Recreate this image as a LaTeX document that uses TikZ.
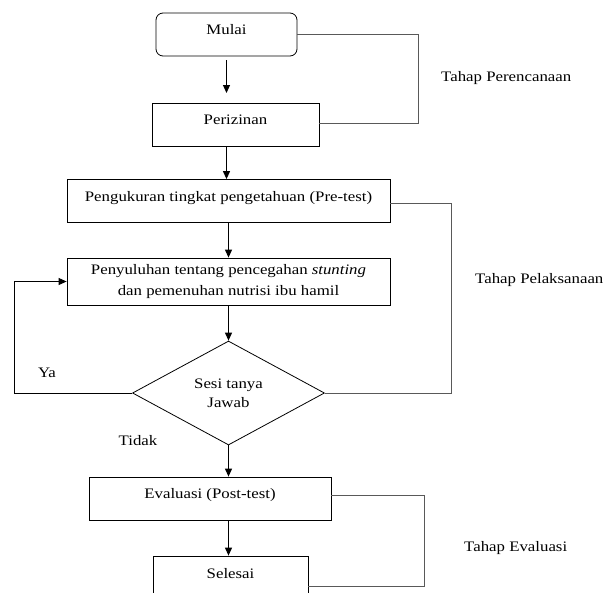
\documentclass[tikz,border=0pt]{standalone}
\usepackage{fontspec}
\setmainfont[FakeStretch=1.16]{Liberation Serif}
\usetikzlibrary{shapes.geometric,arrows.meta}

\tikzset{
  flow/.style={line width=1.1pt, -{Triangle[length=8pt,width=7pt]}},
  backflow/.style={line width=0.8pt, -{Triangle[length=8pt,width=7pt]}},
  phase/.style={draw=black!65, line width=0.7pt},
  stepbox/.style={draw, line width=0.8pt, minimum height=43pt, text depth=10pt,
    inner sep=0pt, font=\fontsize{14.5}{17}\selectfont},
  twoline/.style={draw, line width=0.8pt, inner sep=0pt, align=center,
    font=\fontsize{14.5}{21}\selectfont},
  startbox/.style={stepbox, rounded corners=7pt},
  decision/.style={draw, diamond, line width=0.8pt, inner sep=0pt, align=center,
    font=\fontsize{14.5}{19}\selectfont},
  tag/.style={font=\fontsize{14.5}{17}\selectfont, inner sep=0pt},
}

\begin{document}
\begin{tikzpicture}[x=1pt, y=-1pt]
  \useasboundingbox (0,0) rectangle (610,592);

  % process steps
  \node[startbox, minimum width=141pt] (mulai) at (226.5,34.5) {Mulai};
  \node[stepbox, minimum width=167pt] (izin) at (235.5,124.5) {Perizinan};
  \node[stepbox, minimum width=323pt] (pre) at (228.5,201) {Pengukuran tingkat pengetahuan (Pre-test)};
  \node[twoline, minimum width=323pt, minimum height=47pt] (suluh) at (228.5,281.5)
    {Penyuluhan tentang pencegahan \textit{stunting}\\dan pemenuhan nutrisi ibu hamil};
  \node[decision, minimum width=192pt, minimum height=104pt] (tanya) at (228.5,393)
    {Sesi tanya\\Jawab};
  \node[stepbox, minimum width=242pt] (eval) at (210,498.5) {Evaluasi (Post-test)};
  \node[stepbox, minimum width=155pt, minimum height=44pt] (selesai) at (230.5,578) {Selesai};

  % main flow
  \coordinate (m1) at (226.5,60);
  \coordinate (m2) at (226.5,93);
  \draw[flow] (m1) -- (m2);
  \draw[flow] (mulai.south |- izin.south) -- (mulai.south |- pre.north);
  \draw[flow] (pre.south) -- (suluh.north);
  \draw[flow] (suluh.south) -- (tanya.north);
  \draw[flow] (tanya.south) -- (tanya.south |- eval.north);
  \draw[flow] (tanya.south |- eval.south) -- (tanya.south |- selesai.north);

  % "Ya" loop back to the counselling step
  \coordinate (loop) at (14,393);
  \draw[backflow] (tanya.west) -- (loop) |- (suluh.west);
  \node[tag] (ya) at (47,373) {Ya};
  \node[tag] (tidak) at (138,441) {Tidak};

  % phase brackets
  \coordinate (p1a) at (418,34.5);
  \coordinate (p1b) at (418,123);
  \draw[phase] (mulai.east) -- (p1a) -- (p1b) -- (izin.east |- p1b);
  \coordinate (p2a) at (451,203);
  \coordinate (p2b) at (451,393);
  \draw[phase] (pre.east |- p2a) -- (p2a) -- (p2b) -- (tanya.east);
  \coordinate (p3a) at (424,495);
  \coordinate (p3b) at (424,586);
  \draw[phase] (eval.east |- p3a) -- (p3a) -- (p3b) -- (selesai.east |- p3b);

  \node[tag, anchor=west] (rencana) at (441,78) {Tahap Perencanaan};
  \node[tag, anchor=west] (laksana) at (475,280) {Tahap Pelaksanaan};
  \node[tag, anchor=west] (evaluasi) at (464,548) {Tahap Evaluasi};
\end{tikzpicture}
\end{document}
